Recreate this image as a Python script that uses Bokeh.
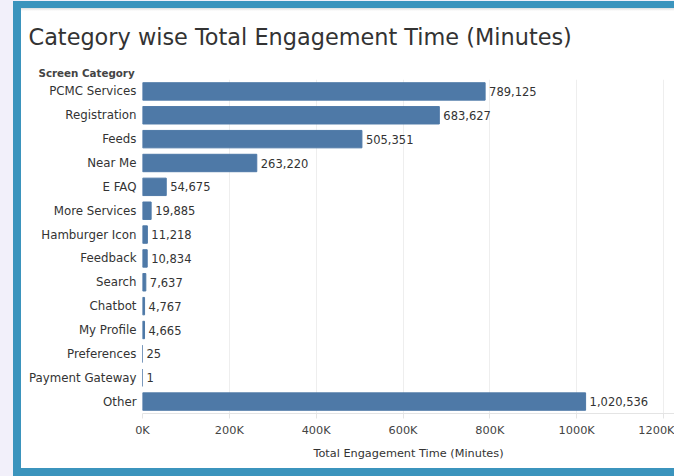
from bokeh.plotting import figure
from bokeh.models import ColumnDataSource, FixedTicker, Title, Range1d
from bokeh.embed import file_html
from bokeh.resources import INLINE
from bokeh.core.properties import value

categories = ["PCMC Services", "Registration", "Feeds", "Near Me", "E FAQ",
              "More Services", "Hamburger Icon", "Feedback", "Search", "Chatbot",
              "My Profile", "Preferences", "Payment Gateway", "Other"]
minutes = [789125, 683627, 505351, 263220, 54675, 19885, 11218, 10834, 7637,
           4767, 4665, 25, 1, 1020536]
x_ticks = [0, 200000, 400000, 600000, 800000, 1000000, 1200000]
x_tick_labels = ["0K", "200K", "400K", "600K", "800K", "1000K", "1200K"]

FONT = "DejaVu Sans"
TXT = "#333333"

src = ColumnDataSource(dict(cat=categories, minutes=minutes,
                            label=[f"{v:,}" for v in minutes]))

p = figure(width=674, height=476, y_range=list(reversed(categories)),
           x_range=Range1d(0, 1225300), output_backend="svg", toolbar_location=None,
           min_border_left=142, min_border_right=0, min_border_top=79,
           min_border_bottom=63)
p.border_fill_color = None
p.background_fill_color = "white"
p.outline_line_color = None
p.styles = {
    "background": "linear-gradient(#dedede, #ffffff) 21px 8px / 100% 3px no-repeat, "
                  "linear-gradient(#ffffff, #ffffff) 21px 8px / 100% 460px no-repeat, "
                  "linear-gradient(#3b94bd, #3b94bd) 13px 1px / 100% 100% no-repeat, "
                  "#f2f0fa"
}

p.hbar(y="cat", right="minutes", height=0.73, source=src,
       fill_color="#4e79a7", line_color="#4e79a7")
p.text(x="minutes", y="cat", text="label", source=src, x_offset=4,
       text_baseline="middle", text_align="left", text_font=value(FONT),
       text_font_size="11.5px", text_color=TXT)

p.xgrid.grid_line_color = "#eeeeee"
p.ygrid.grid_line_color = None

xa = p.xaxis[0]
xa.ticker = FixedTicker(ticks=x_ticks)
xa.major_label_overrides = dict(zip(x_ticks, x_tick_labels))
xa.axis_label = "Total Engagement Time (Minutes)"
xa.axis_label_text_font = FONT
xa.axis_label_text_font_size = "11.3px"
xa.axis_label_text_font_style = "normal"
xa.axis_label_text_color = TXT
xa.axis_label_standoff = 7
xa.major_label_text_font = FONT
xa.major_label_text_font_size = "11.3px"
xa.major_label_text_color = "#444444"
xa.axis_line_color = "#e4e4e4"
xa.major_tick_line_color = "#e4e4e4"
xa.major_tick_in = 0
xa.major_tick_out = 5
xa.minor_tick_line_color = None

ya = p.yaxis[0]
ya.axis_line_color = None
ya.major_tick_line_color = None
ya.minor_tick_line_color = None
ya.major_label_standoff = 0
ya.major_label_text_font = FONT
ya.major_label_text_font_size = "11.8px"
ya.major_label_text_color = TXT

p.add_layout(Title(text="Screen Category", align="left", offset=-104,
                   text_font=FONT, text_font_size="10.3px", text_font_style="bold",
                   text_color="#444444", standoff=2), "above")
p.add_layout(Title(text="Category wise Total Engagement Time (Minutes)", align="left",
                   offset=-114, text_font=FONT, text_font_size="22.4px",
                   text_font_style="normal", text_color=TXT, standoff=27), "above")

open("out.html", "w").write(file_html(p, INLINE))
